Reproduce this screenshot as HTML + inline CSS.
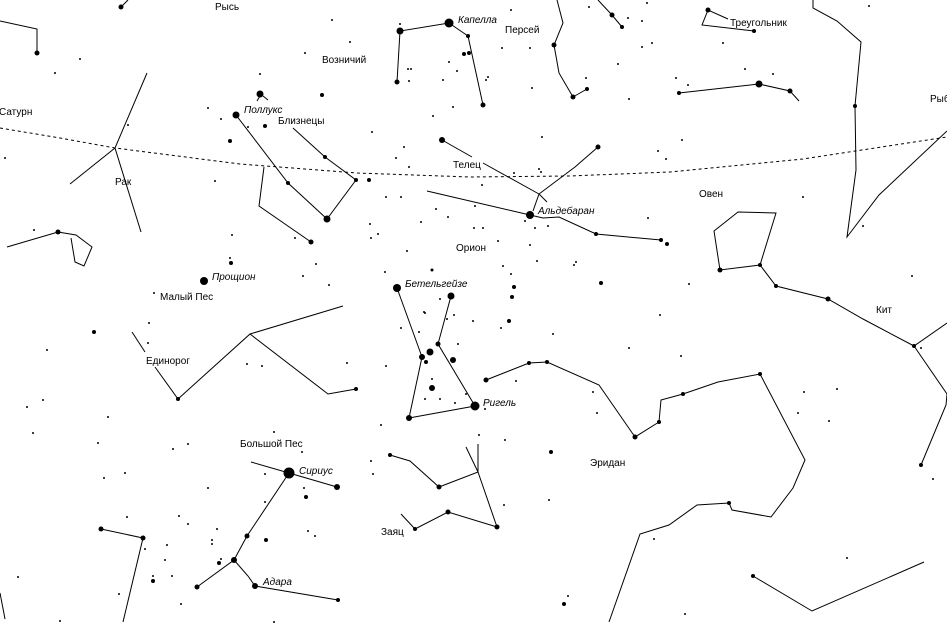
<!DOCTYPE html>
<html><head><meta charset="utf-8"><style>
html,body{margin:0;padding:0;background:#fff;}
svg{display:block;}
text{font-family:"Liberation Sans",sans-serif;font-size:10px;fill:#000;}
.i{font-style:italic;}
</style></head><body>
<svg width="947" height="623" viewBox="0 0 947 623" xmlns="http://www.w3.org/2000/svg">
<g fill="none" stroke="#000" stroke-width="1">
<polyline stroke-dasharray="3,3" points="0,128 60,138 115,148 240,164 357,173 470,177 570,176 670,172 803,159 947,137"/>
<polyline points="0,21 37,29 37,53"/>
<line x1="121" y1="7" x2="128" y2="0"/>
<polyline points="147,73 115,148 141,232"/><line x1="115" y1="148" x2="70" y2="184"/>
<polyline points="7,247 58,232 76,235 92,247 84,266 75,262 71,238"/>
<line x1="257" y1="101" x2="260" y2="96"/><line x1="263" y1="96" x2="268" y2="100"/>
<polyline points="236,115 288,183 327,219 356,180 325,157 293,128"/>
<polyline points="264,167 259,206 311,242"/>
<polyline points="397,82 400,31 449,23 468,36 483,105"/>
<line x1="442" y1="140" x2="472" y2="157"/><line x1="483" y1="163" x2="539" y2="194"/>
<polyline points="533,211 539,194 575,167 598,147"/><line x1="539" y1="194" x2="547" y2="202"/>
<polyline points="427,191 530,215 543,218 559,217 596,234 661,240"/>
<polyline points="557,0 563,23 554,45 559,73 573,97 587,89"/>
<polyline points="598,0 612,15 622,27"/>
<polyline points="728,19 708,10 702,25 754,31"/>
<polyline points="679,93 759,84 790,91 799,101"/>
<polyline points="813,0 813,8 837,21 861,42 855,106 856,170 847,237 879,195 947,131"/>
<polygon points="714,231 738,212 776,213 760,265 720,270"/>
<polyline points="760,265 776,286 828,299 863,319 914,346 947,323"/>
<polyline points="914,346 947,394 946,405 921,465"/>
<polyline points="397,288 422,357 409,418 475,406 438,344 451,296"/>
<polyline points="390,455 410,461 439,487 478,472 497,527"/>
<polyline points="478,472 478,444"/><line x1="466" y1="447" x2="478" y2="472"/>
<polyline points="401,514 415,529 448,512 497,527"/>
<polyline points="486,380 529,363 547,362 599,385 635,437 659,422 661,400 683,394 718,382 760,374 805,460 793,488 771,517 732,510 729,503 697,505 669,525 640,534 609,622"/>
<polyline points="753,576 812,611 924,562"/>
<polyline points="251,462 289,473 337,487"/>
<polyline points="289,473 247,536 234,560 197,587"/>
<polyline points="234,560 248,576 255,586 338,600"/>
<polyline points="101,529 143,538 123,622"/>
<polyline points="0,593 5,619"/>
<polyline points="132,332 145,352"/><polyline points="155,367 178,399 250,334 343,306"/>
<polyline points="250,334 328,394 356,389"/>
</g>
<g fill="#000">
<!-- big stars -->
<circle cx="289" cy="473" r="5.5"/><circle cx="449" cy="23" r="4.5"/><circle cx="475" cy="406" r="4.5"/>
<circle cx="397" cy="288" r="4"/><circle cx="204" cy="281" r="4"/><circle cx="530" cy="215" r="4"/>
<circle cx="236" cy="115" r="3.5"/><circle cx="260" cy="94" r="3.5"/><circle cx="451" cy="296" r="3.5"/>
<circle cx="327" cy="219" r="3.5"/><circle cx="400" cy="31" r="3.5"/><circle cx="759" cy="84" r="3.5"/>
<circle cx="430" cy="352" r="3.5"/><circle cx="409" cy="418" r="3"/><circle cx="337" cy="487" r="3"/>
<circle cx="234" cy="560" r="3"/><circle cx="255" cy="586" r="3"/><circle cx="442" cy="140" r="3"/>
<circle cx="422" cy="357" r="3"/><circle cx="432" cy="388" r="3"/><circle cx="453" cy="360" r="3"/>
<circle cx="37" cy="53" r="2.5"/><circle cx="121" cy="7" r="2.5"/><circle cx="397" cy="82" r="2.5"/>
<circle cx="483" cy="105" r="2.5"/><circle cx="573" cy="97" r="2.5"/><circle cx="554" cy="45" r="2.5"/>
<circle cx="612" cy="15" r="2.5"/><circle cx="708" cy="10" r="2.5"/><circle cx="790" cy="91" r="2.5"/>
<circle cx="720" cy="270" r="2.5"/><circle cx="828" cy="299" r="2.5"/><circle cx="921" cy="465" r="2"/>
<circle cx="486" cy="380" r="2.5"/><circle cx="635" cy="437" r="2.5"/><circle cx="760" cy="374" r="2"/>
<circle cx="753" cy="576" r="2"/><circle cx="497" cy="527" r="2.5"/><circle cx="439" cy="487" r="2.5"/>
<circle cx="448" cy="512" r="2.5"/><circle cx="197" cy="587" r="2.5"/><circle cx="247" cy="536" r="2.5"/>
<circle cx="101" cy="529" r="2.5"/><circle cx="143" cy="538" r="2.5"/><circle cx="311" cy="242" r="2.5"/>
<circle cx="58" cy="232" r="2.5"/><circle cx="438" cy="344" r="2.5"/><circle cx="598" cy="147" r="2.5"/>
<circle cx="94" cy="332" r="2"/><circle cx="306" cy="497" r="2"/><circle cx="266" cy="540" r="2"/>
<circle cx="219" cy="563" r="2"/><circle cx="153" cy="581" r="2"/><circle cx="564" cy="604" r="2"/>
<circle cx="551" cy="452" r="2"/><circle cx="509" cy="321" r="2"/><circle cx="514" cy="287" r="2"/>
<circle cx="512" cy="297" r="2"/><circle cx="601" cy="283" r="2"/><circle cx="667" cy="244" r="2"/>
<circle cx="661" cy="240" r="2"/><circle cx="596" cy="234" r="2"/><circle cx="369" cy="180" r="2"/>
<circle cx="356" cy="180" r="2"/><circle cx="325" cy="157" r="2"/><circle cx="230" cy="141" r="2"/>
<circle cx="265" cy="126" r="2"/><circle cx="322" cy="95" r="2"/><circle cx="231" cy="263" r="2"/>
<circle cx="464" cy="54" r="2"/><circle cx="469" cy="53" r="2"/><circle cx="468" cy="36" r="2"/>
<circle cx="426" cy="362" r="2"/><circle cx="587" cy="89" r="2"/><circle cx="622" cy="27" r="2"/>
<circle cx="356" cy="389" r="2"/><circle cx="178" cy="399" r="2"/><circle cx="338" cy="600" r="2"/>
<circle cx="415" cy="529" r="2"/><circle cx="390" cy="455" r="2"/><circle cx="529" cy="363" r="2"/>
<circle cx="547" cy="362" r="2"/><circle cx="659" cy="422" r="2"/><circle cx="683" cy="394" r="2"/>
<circle cx="729" cy="503" r="2"/><circle cx="288" cy="183" r="2"/><circle cx="754" cy="31" r="2"/>
<circle cx="679" cy="93" r="2"/><circle cx="855" cy="106" r="2"/><circle cx="776" cy="286" r="2"/>
<circle cx="760" cy="265" r="2"/><circle cx="914" cy="346" r="2"/>
<!-- faint stars -->
<g>
<circle cx="80" cy="59" r="1"/><circle cx="55" cy="73" r="1"/><circle cx="128" cy="125" r="1"/><circle cx="5" cy="158" r="1"/>
<circle cx="332" cy="20" r="1"/><circle cx="350" cy="42" r="1"/><circle cx="305" cy="53" r="1"/><circle cx="260" cy="74" r="1"/>
<circle cx="208" cy="108" r="1"/><circle cx="221" cy="119" r="1"/><circle cx="248" cy="127" r="1"/><circle cx="372" cy="132" r="1"/>
<circle cx="404" cy="147" r="1"/><circle cx="396" cy="158" r="1"/><circle cx="409" cy="167" r="1"/><circle cx="453" cy="107" r="1"/>
<circle cx="433" cy="116" r="1"/><circle cx="386" cy="197" r="1"/><circle cx="401" cy="197" r="1"/><circle cx="436" cy="209" r="1"/>
<circle cx="448" cy="217" r="1"/><circle cx="370" cy="224" r="1"/><circle cx="371" cy="238" r="1"/><circle cx="378" cy="234" r="1"/>
<circle cx="421" cy="222" r="1"/><circle cx="474" cy="228" r="1"/><circle cx="407" cy="251" r="1"/><circle cx="385" cy="272" r="1"/>
<circle cx="432" cy="270" r="1.5"/><circle cx="425" cy="313" r="1"/><circle cx="440" cy="299" r="1"/><circle cx="316" cy="264" r="1"/>
<circle cx="303" cy="276" r="1"/><circle cx="329" cy="285" r="1"/><circle cx="295" cy="238" r="1"/><circle cx="232" cy="235" r="1"/>
<circle cx="215" cy="181" r="1"/><circle cx="34" cy="230" r="1"/><circle cx="230" cy="258" r="1"/><circle cx="154" cy="293" r="1"/>
<circle cx="400" cy="24" r="1"/><circle cx="408" cy="69" r="1"/><circle cx="411" cy="69" r="1"/><circle cx="409" cy="81" r="1"/>
<circle cx="449" cy="62" r="1"/><circle cx="457" cy="71" r="1"/><circle cx="443" cy="80" r="1"/>
<circle cx="511" cy="10" r="1"/><circle cx="502" cy="48" r="1"/><circle cx="530" cy="48" r="1"/><circle cx="532" cy="88" r="1"/>
<circle cx="488" cy="77" r="1"/><circle cx="486" cy="80" r="1"/><circle cx="589" cy="7" r="1"/><circle cx="647" cy="3" r="1"/>
<circle cx="628" cy="18" r="1"/><circle cx="642" cy="21" r="1"/><circle cx="642" cy="47" r="1"/><circle cx="652" cy="43" r="1"/>
<circle cx="618" cy="64" r="1"/><circle cx="586" cy="78" r="1"/><circle cx="629" cy="99" r="1"/><circle cx="869" cy="6" r="1"/>
<circle cx="723" cy="43" r="1"/><circle cx="745" cy="69" r="1"/><circle cx="773" cy="74" r="1"/><circle cx="676" cy="78" r="1"/>
<circle cx="688" cy="85" r="1"/><circle cx="542" cy="137" r="1"/><circle cx="682" cy="140" r="1"/><circle cx="658" cy="151" r="1"/>
<circle cx="666" cy="159" r="1"/><circle cx="514" cy="173" r="1"/><circle cx="482" cy="185" r="1"/><circle cx="539" cy="169" r="1"/>
<circle cx="541" cy="172" r="1"/><circle cx="475" cy="206" r="1"/><circle cx="648" cy="218" r="1"/><circle cx="803" cy="197" r="1"/>
<circle cx="863" cy="226" r="1"/><circle cx="483" cy="228" r="1"/><circle cx="498" cy="241" r="1"/><circle cx="530" cy="245" r="1"/>
<circle cx="535" cy="228" r="1"/><circle cx="548" cy="226" r="1"/><circle cx="525" cy="221" r="1"/><circle cx="537" cy="261" r="1"/>
<circle cx="576" cy="262" r="1"/><circle cx="574" cy="265" r="1"/><circle cx="503" cy="266" r="1"/><circle cx="511" cy="274" r="1"/>
<circle cx="689" cy="284" r="1"/><circle cx="660" cy="315" r="1"/><circle cx="912" cy="276" r="1"/>
<circle cx="47" cy="350" r="1"/><circle cx="27" cy="407" r="1"/><circle cx="43" cy="400" r="1"/><circle cx="33" cy="433" r="1"/>
<circle cx="98" cy="443" r="1"/><circle cx="108" cy="417" r="1"/><circle cx="149" cy="323" r="1"/><circle cx="148" cy="343" r="1"/>
<circle cx="247" cy="364" r="1"/><circle cx="262" cy="366" r="1"/><circle cx="347" cy="363" r="1"/><circle cx="386" cy="366" r="1"/>
<circle cx="188" cy="444" r="1"/><circle cx="173" cy="449" r="1"/><circle cx="104" cy="478" r="1"/><circle cx="125" cy="473" r="1"/>
<circle cx="208" cy="488" r="1"/><circle cx="274" cy="432" r="1"/><circle cx="302" cy="452" r="1"/><circle cx="265" cy="474" r="1"/>
<circle cx="304" cy="488" r="1"/><circle cx="265" cy="502" r="1"/><circle cx="371" cy="461" r="1"/><circle cx="373" cy="474" r="1"/>
<circle cx="381" cy="425" r="1"/><circle cx="127" cy="517" r="1"/><circle cx="179" cy="516" r="1"/><circle cx="188" cy="524" r="1"/>
<circle cx="217" cy="529" r="1"/><circle cx="212" cy="540" r="1"/><circle cx="212" cy="544" r="1"/><circle cx="167" cy="545" r="1"/>
<circle cx="145" cy="549" r="1"/><circle cx="165" cy="560" r="1"/><circle cx="221" cy="559" r="1"/><circle cx="308" cy="531" r="1"/>
<circle cx="315" cy="536" r="1"/><circle cx="172" cy="576" r="1"/><circle cx="153" cy="576" r="1"/><circle cx="119" cy="594" r="1"/>
<circle cx="18" cy="577" r="1"/><circle cx="181" cy="604" r="1"/><circle cx="60" cy="621" r="1"/><circle cx="274" cy="622" r="1"/>
<circle cx="401" cy="328" r="1"/><circle cx="419" cy="332" r="1"/><circle cx="424" cy="312" r="1"/><circle cx="454" cy="315" r="1"/>
<circle cx="447" cy="319" r="1"/><circle cx="473" cy="321" r="1"/><circle cx="458" cy="344" r="1"/><circle cx="432" cy="379" r="1"/>
<circle cx="425" cy="399" r="1"/><circle cx="440" cy="399" r="1"/><circle cx="455" cy="403" r="1"/><circle cx="466" cy="394" r="1"/>
<circle cx="501" cy="328" r="1"/><circle cx="553" cy="334" r="1"/><circle cx="629" cy="348" r="1"/><circle cx="681" cy="356" r="1"/>
<circle cx="516" cy="381" r="1"/><circle cx="593" cy="392" r="1"/><circle cx="597" cy="413" r="1"/><circle cx="485" cy="409" r="1"/>
<circle cx="479" cy="435" r="1"/><circle cx="505" cy="440" r="1"/><circle cx="549" cy="500" r="1"/><circle cx="504" cy="505" r="1"/>
<circle cx="804" cy="392" r="1"/><circle cx="837" cy="389" r="1"/><circle cx="798" cy="413" r="1"/><circle cx="829" cy="421" r="1"/>
<circle cx="933" cy="479" r="1"/><circle cx="921" cy="348" r="1"/><circle cx="654" cy="539" r="1"/><circle cx="847" cy="558" r="1"/>
<circle cx="568" cy="596" r="1"/><circle cx="685" cy="614" r="1"/>
</g>
</g>
<g>
<text x="215" y="10">Рысь</text>
<text x="322" y="63">Возничий</text>
<text x="-1" y="115">Сатурн</text>
<text x="244" y="113" class="i">Поллукс</text>
<text x="278" y="124">Близнецы</text>
<text x="115" y="185">Рак</text>
<text x="212" y="280" class="i">Прощион</text>
<text x="160" y="300">Малый Пес</text>
<text x="458" y="23" class="i">Капелла</text>
<text x="505" y="33">Персей</text>
<text x="730" y="26">Треугольник</text>
<text x="453" y="168">Телец</text>
<text x="538" y="214" class="i">Альдебаран</text>
<text x="699" y="197">Овен</text>
<text x="456" y="251">Орион</text>
<text x="405" y="287" class="i">Бетельгейзе</text>
<text x="876" y="313">Кит</text>
<text x="930" y="102">Рыбы</text>
<text x="146" y="364">Единорог</text>
<text x="483" y="406" class="i">Ригель</text>
<text x="240" y="447">Большой Пес</text>
<text x="299" y="474" class="i">Сириус</text>
<text x="590" y="466">Эридан</text>
<text x="381" y="535">Заяц</text>
<text x="263" y="585" class="i">Адара</text>
</g>
</svg>
</body></html>
